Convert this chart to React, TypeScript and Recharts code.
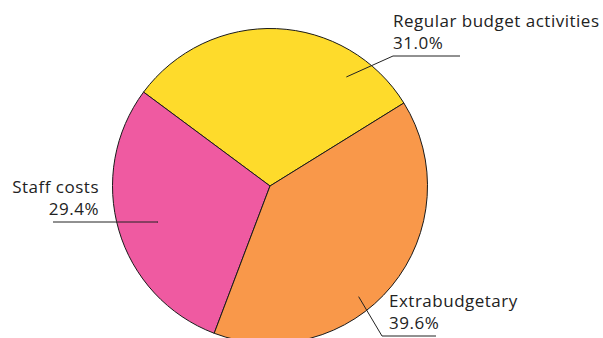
import { PieChart, Pie, Cell } from "recharts";

const categories = ["Regular budget activities", "Staff costs", "Extrabudgetary"];
const shares = [31.0, 29.4, 39.6];
const colors = ["#FEDB2B", "#EF5AA1", "#F9984A"];

// label placement per slice: anchor angle (deg), anchor radius (fraction of R),
// elbow offset from center, end of the horizontal line, text side
const labelSpots = [
  { angle: 55, r: 0.845, ex: 123, ey: -130, lineEnd: 190, align: "start" },
  { angle: 197.8, r: 0.75, ex: -112, ey: 36, lineEnd: -217, align: "end" },
  { angle: 308.7, r: 0.9, ex: 112, ey: 150, lineEnd: 166, align: "start" },
];

const data = categories.map((name, i) => ({ name, value: shares[i] }));

const RAD = Math.PI / 180;

function renderLabel(props: any) {
  const { cx, cy, outerRadius, index } = props;
  const s = labelSpots[index];
  const ax = cx + Math.cos(s.angle * RAD) * outerRadius * s.r;
  const ay = cy - Math.sin(s.angle * RAD) * outerRadius * s.r;
  const exx = cx + s.ex;
  const eyy = cy + s.ey;
  const lx = cx + s.lineEnd;
  const textX = s.align === "end" ? cx - 171 : index === 2 ? exx + 7 : exx;
  return (
    <g>
      <polyline points={`${ax},${ay} ${exx},${eyy} ${lx},${eyy}`} fill="none" stroke="#222" strokeWidth={1} />
      <text x={textX} y={eyy - 29} textAnchor={s.align as any} fill="#222" fontSize={17} letterSpacing={0.5}>
        {categories[index]}
      </text>
      <text x={textX} y={eyy - 7} textAnchor={s.align as any} fill="#222" fontSize={17} letterSpacing={0.5}>
        {shares[index].toFixed(1)}%
      </text>
    </g>
  );
}

export default function App() {
  return (
    <div style={{ position: "absolute", left: 0, top: 0, width: 603, height: 338, background: "#fff", fontFamily: "'Open Sans', 'Noto Sans', sans-serif" }}>
      <PieChart width={603} height={338} margin={{ top: 0, right: 0, bottom: 0, left: 0 }}>
        <Pie
          data={data}
          dataKey="value"
          nameKey="name"
          cx={270}
          cy={186}
          outerRadius={157.5}
          startAngle={31.8}
          endAngle={391.8}
          stroke="#1a1a1a"
          strokeWidth={1}
          label={renderLabel}
          labelLine={false}
          isAnimationActive={false}
        >
          {data.map((d, i) => (
            <Cell key={d.name} fill={colors[i]} />
          ))}
        </Pie>
      </PieChart>
    </div>
  );
}
